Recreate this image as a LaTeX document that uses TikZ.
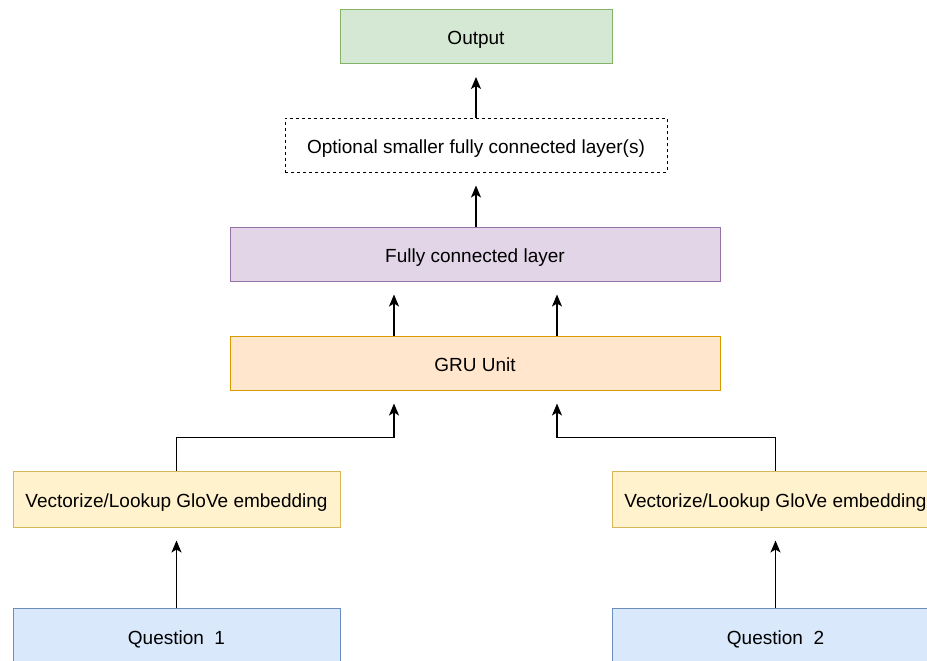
\documentclass[tikz,border=0pt]{standalone}
\usepackage{fontspec}
\setmainfont{Liberation Sans}
\usetikzlibrary{arrows.meta}
\definecolor{outFill}{HTML}{D5E8D4}\definecolor{outLine}{HTML}{82B366}
\definecolor{fcFill}{HTML}{E1D5E7}\definecolor{fcLine}{HTML}{9673A6}
\definecolor{gruFill}{HTML}{FFE6CC}\definecolor{gruLine}{HTML}{D79B00}
\definecolor{vecFill}{HTML}{FFF2CC}\definecolor{vecLine}{HTML}{D6B656}
\definecolor{qFill}{HTML}{DAE8FC}\definecolor{qLine}{HTML}{6C8EBF}
\begin{document}
\begin{tikzpicture}[x=1pt,y=-1pt,
  box/.style={draw, line width=1pt, inner sep=0pt, minimum height=54pt,
    font=\fontsize{19}{22}\selectfont, text height=16pt, text depth=0pt,
    anchor=center},
  link/.style={line width=1.3pt, -{Stealth[length=12pt,width=10pt,inset=3pt]},
    shorten >=13pt}]
\useasboundingbox (0,0) rectangle (927,661);
\clip (0,0) rectangle (927,661);

% layer boxes, top to bottom
\node[box, fill=outFill, draw=outLine, minimum width=272pt] (out) at (476,36.5) {Output};
\node[box, fill=white, draw=black, dashed, minimum width=382pt] (opt) at (476,145) {Optional smaller fully connected layer(s)};
\node[box, fill=fcFill, draw=fcLine, minimum width=490pt] (fc) at (475,254) {Fully connected layer};
\node[box, fill=gruFill, draw=gruLine, minimum width=490pt] (gru) at (475,363) {GRU Unit};
\node[box, fill=vecFill, draw=vecLine, minimum width=327pt, minimum height=56pt] (vl) at (176.5,499) {Vectorize/Lookup GloVe embedding};
\node[box, fill=vecFill, draw=vecLine, minimum width=327pt, minimum height=56pt] (vr) at (775.5,499) {Vectorize/Lookup GloVe embedding};
\node[box, fill=qFill, draw=qLine, minimum width=327pt, minimum height=56pt] (q1) at (176.5,636) {Question\ \ 1};
\node[box, fill=qFill, draw=qLine, minimum width=327pt, minimum height=56pt] (q2) at (775.5,636) {Question\ \ 2};

% connectors
\draw[link] (q1.north) -- (vl.south);
\draw[link] (q2.north) -- (vr.south);
\draw[link] (vl.north) -- ++(0,-33) -| ([xshift=-81pt]gru.south);
\draw[link] (vr.north) -- ++(0,-33) -| ([xshift=82pt]gru.south);
\draw[link] ([xshift=-81pt]gru.north) -- ([xshift=-81pt]fc.south);
\draw[link] ([xshift=82pt]gru.north) -- ([xshift=82pt]fc.south);
\draw[link] (fc.north -| opt.south) -- (opt.south);
\draw[link] (opt.north) -- (out.south);
\end{tikzpicture}
\end{document}
